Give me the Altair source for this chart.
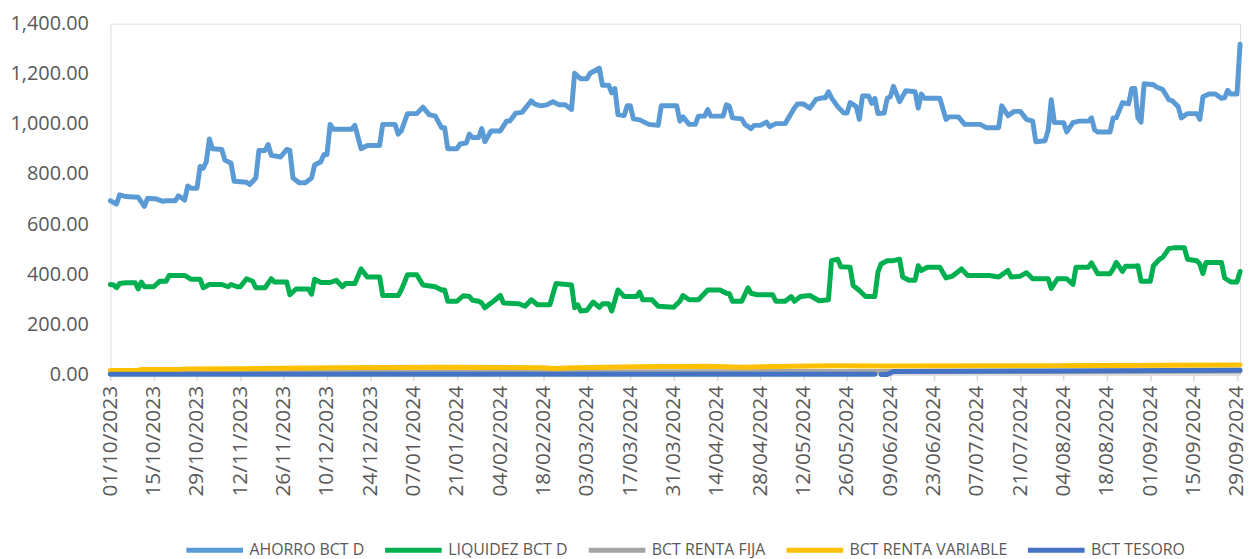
import datetime as dt
import altair as alt
import pandas as pd

START = dt.date(2023, 10, 1)

series_names = ["AHORRO BCT D", "LIQUIDEZ BCT D", "BCT RENTA FIJA", "BCT RENTA VARIABLE", "BCT TESORO"]
series_colors = ["#5B9BD5", "#00B050", "#A5A5A5", "#FFC000", "#4472C4"]

# days since 01/10/2023 and values
ahorro_days = [0, 2, 3, 5, 9, 11, 12, 15, 17, 18, 21, 22, 24, 25, 26, 28, 29, 30, 31, 32, 33, 36, 37, 39, 40, 44, 45, 47, 48, 50,
               51, 52, 55, 57, 58, 59, 61, 63, 65, 66, 68, 69, 70, 71, 72, 78, 79, 81, 83, 87, 88, 92, 93, 94, 96, 99, 100, 101, 103, 105,
               107, 108, 109, 112, 113, 115, 116, 117, 119, 120, 121, 123, 126, 128, 129, 131, 133, 136, 137, 139, 141, 143, 145, 147, 149, 150, 152, 154, 155, 158,
               159, 161, 162, 163, 164, 166, 167, 168, 169, 171, 174, 177, 178, 183, 184, 185, 187, 189, 190, 192, 193, 194, 198, 199, 200, 201, 204, 205, 207, 208,
               210, 212, 213, 215, 218, 221, 222, 224, 226, 228, 230, 231, 232, 233, 235, 237, 238, 239, 241, 242, 243, 245, 246, 247, 248, 250, 251, 252, 253, 255,
               257, 260, 261, 262, 263, 268, 270, 271, 274, 276, 281, 283, 287, 288, 290, 292, 294, 296, 298, 299, 302, 303, 304, 305, 308, 309, 311, 313, 316, 317,
               318, 319, 323, 324, 325, 327, 329, 330, 331, 332, 333, 334, 337, 338, 340, 342, 343, 345, 346, 348, 351, 352, 353, 355, 357, 359, 360, 361, 362, 364, 365]
ahorro_vals = [693, 680, 717, 710, 707, 671, 703, 700, 691, 693, 693, 713, 696, 752, 743, 743, 830, 823, 849, 940, 901, 898, 856, 843, 771, 767, 758, 784, 894, 894,
               917, 875, 868, 898, 894, 784, 765, 765, 784, 836, 849, 878, 878, 998, 979, 979, 994, 901, 914, 914, 998, 998, 959, 972, 1041, 1041, 1054, 1067, 1037, 1031,
               985, 985, 901, 901, 920, 924, 959, 946, 946, 981, 929, 972, 972, 1011, 1011, 1043, 1046, 1092, 1080, 1072, 1076, 1089, 1076, 1076, 1057, 1202, 1180, 1180, 1202, 1222,
               1154, 1154, 1124, 1141, 1037, 1033, 1072, 1072, 1020, 1016, 998, 994, 1072, 1072, 1011, 1028, 998, 998, 1031, 1031, 1057, 1031, 1031, 1076, 1070, 1024, 1020, 998, 981, 994,
               994, 1007, 989, 1001, 1001, 1063, 1079, 1079, 1063, 1098, 1104, 1104, 1128, 1104, 1069, 1043, 1043, 1085, 1069, 1018, 1111, 1111, 1082, 1102, 1041, 1043, 1102, 1108, 1150, 1089,
               1132, 1128, 1063, 1119, 1102, 1102, 1018, 1028, 1028, 998, 998, 985, 985, 1072, 1033, 1050, 1050, 1018, 1011, 929, 933, 975, 1096, 1005, 1005, 968, 1005, 1011, 1011, 1024,
               976, 968, 968, 1024, 1024, 1085, 1080, 1141, 1141, 1024, 1007, 1160, 1156, 1147, 1137, 1096, 1093, 1069, 1024, 1041, 1041, 1018, 1108, 1119, 1119, 1102, 1104, 1134, 1119, 1119, 1318]

liquidez_days = [0, 1, 2, 3, 5, 8, 9, 10, 11, 14, 16, 18, 19, 24, 26, 29, 30, 32, 36, 38, 39, 41, 42, 44, 46, 47, 50, 52, 53, 57,
                 58, 60, 64, 65, 66, 68, 71, 73, 75, 76, 79, 81, 83, 87, 88, 93, 94, 96, 99, 101, 105, 107, 108, 109, 112, 114, 116, 117, 119, 120,
                 121, 123, 124, 126, 127, 132, 134, 136, 138, 142, 144, 149, 150, 151, 152, 154, 156, 158, 159, 161, 162, 164, 166, 170, 171, 172, 175, 177, 182, 184,
                 185, 187, 190, 193, 197, 199, 200, 201, 204, 206, 207, 209, 214, 215, 218, 220, 221, 223, 226, 229, 232, 233, 235, 236, 239, 240, 242, 244, 247, 248,
                 249, 251, 253, 255, 256, 258, 260, 261, 262, 264, 268, 270, 272, 275, 277, 284, 287, 290, 291, 294, 296, 298, 303, 304, 306, 309, 311, 312, 316, 317,
                 319, 323, 324, 325, 327, 328, 331, 332, 333, 336, 337, 339, 340, 342, 344, 347, 348, 351, 352, 353, 354, 359, 360, 362, 364, 365]
liquidez_vals = [359, 357, 346, 363, 366, 366, 341, 369, 350, 350, 372, 372, 395, 395, 380, 380, 346, 359, 359, 350, 359, 350, 350, 382, 372, 346, 346, 382, 369, 369,
                 318, 341, 341, 320, 380, 367, 367, 376, 350, 363, 363, 421, 389, 389, 315, 315, 337, 398, 398, 357, 350, 337, 337, 292, 292, 314, 311, 296, 292, 285,
                 266, 285, 294, 315, 285, 282, 272, 298, 278, 278, 363, 357, 266, 278, 253, 256, 289, 268, 282, 282, 253, 337, 311, 311, 328, 298, 298, 272, 268, 292,
                 315, 298, 298, 337, 337, 324, 322, 292, 292, 346, 324, 318, 318, 292, 292, 311, 292, 311, 315, 294, 298, 454, 460, 430, 428, 355, 335, 311, 311, 408,
                 441, 454, 454, 460, 389, 376, 376, 434, 415, 428, 428, 385, 392, 421, 395, 395, 389, 415, 389, 392, 406, 382, 382, 343, 382, 382, 359, 428, 428, 445,
                 402, 402, 421, 447, 411, 432, 432, 434, 372, 372, 434, 460, 467, 502, 506, 506, 460, 454, 441, 402, 447, 447, 385, 369, 369, 411]

renta_fija_days = [0, 72, 140, 200, 248, 300, 365]
renta_fija_vals = [6, 8, 10, 11, 12, 12, 13]

renta_variable_days = [0, 9, 10, 23, 24, 43, 72, 106, 140, 143, 150, 170, 193, 204, 220, 234, 250, 300, 365]
renta_variable_vals = [16, 16, 20, 20, 22, 23, 27, 29, 27, 24, 27, 31, 33, 29, 33, 35, 34, 35, 38]

tesoro_days_a = [0, 100, 200, 247]
tesoro_vals_a = [1, 1, 1, 1]
tesoro_days_b = [249, 251, 253, 300, 365]
tesoro_vals_b = [0, 0, 12, 14, 17]

tick_days = list(range(0, 365, 14))


def to_dates(days):
    return [(START + dt.timedelta(days=d)).isoformat() for d in days]


frames = []
for name, days, vals, seg in [
    (series_names[0], ahorro_days, ahorro_vals, "a"),
    (series_names[1], liquidez_days, liquidez_vals, "a"),
    (series_names[2], renta_fija_days, renta_fija_vals, "a"),
    (series_names[3], renta_variable_days, renta_variable_vals, "a"),
    (series_names[4], tesoro_days_a, tesoro_vals_a, "a"),
    (series_names[4], tesoro_days_b, tesoro_vals_b, "b"),
]:
    frames.append(pd.DataFrame({"date": to_dates(days), "value": vals, "series": name, "seg": seg}))
df = pd.concat(frames, ignore_index=True)


def dtobj(d):
    return alt.DateTime(year=d.year, month=d.month, date=d.day, utc=True)


tick_values = [dtobj(START + dt.timedelta(days=d)) for d in tick_days]
end_date = START + dt.timedelta(days=365)

FONT = "Open Sans"
LABEL = "#595959"

x_enc = alt.X(
    "date:T",
    title=None,
    scale=alt.Scale(type="utc", domain=[dtobj(START), dtobj(end_date)]),
    axis=alt.Axis(
        values=tick_values,
        labelExpr="utcFormat(datum.value, '%d/%m/%Y')",
        labelAngle=270,
        labelFont=FONT,
        labelFontSize=21,
        labelColor=LABEL,
        labelPadding=5,
        labelOverlap=False,
        tickColor="#D9D9D9",
        tickSize=6,
        tickWidth=1.5,
        domainColor="#D9D9D9",
        domainWidth=1.5,
        grid=False,
    ),
)
y_enc = alt.Y(
    "value:Q",
    title=None,
    scale=alt.Scale(domain=[0, 1400], nice=False),
    axis=alt.Axis(
        values=[0, 200, 400, 600, 800, 1000, 1200, 1400],
        format=",.2f",
        labelFont=FONT,
        labelFontSize=20,
        labelColor=LABEL,
        labelPadding=22,
        ticks=False,
        domain=False,
        grid=False,
    ),
)
color_enc = alt.Color(
    "series:N",
    scale=alt.Scale(domain=series_names, range=series_colors),
    legend=alt.Legend(
        title=None,
        orient="none",
        legendX=74,
        legendY=499,
        direction="horizontal",
        symbolType="stroke",
        symbolSize=3249,
        symbolStrokeWidth=5,
        labelFont=FONT,
        labelFontSize=16,
        labelColor=LABEL,
        labelOffset=4,
        columnPadding=10,
    ),
)

base = alt.Chart(df).mark_line(strokeWidth=5, strokeJoin="round", strokeCap="round").encode(
    x=x_enc, y=y_enc, color=color_enc, detail="seg:N"
)

layers = [base.transform_filter(alt.datum.series == s) for s in series_names]

chart = alt.layer(*layers).properties(
    width=1137,
    height=353,
    autosize=alt.AutoSizeParams(type="none"),
    padding={"left": 103, "top": 14, "right": 12, "bottom": 185},
).configure_view(strokeWidth=0).configure(background="white")

chart.save("out.html", embed_options={"renderer": "svg", "actions": False})
